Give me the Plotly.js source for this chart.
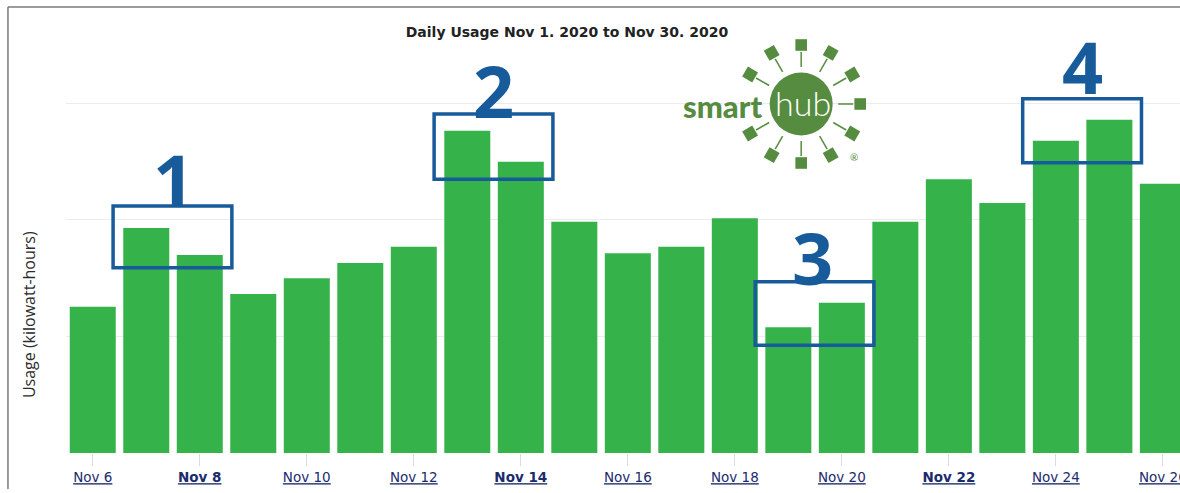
<!DOCTYPE html>
<html>
<head>
<meta charset="utf-8">
<script src="https://cdn.plot.ly/plotly-3.0.1.min.js"></script>
<style>html,body{margin:0;padding:0;background:#fff;}#chart{width:1180px;height:493px;}</style>
</head>
<body>
<div id="chart"></div>
<script>
// ---- data ----
const days = ["Nov 6","Nov 7","Nov 8","Nov 9","Nov 10","Nov 11","Nov 12","Nov 13","Nov 14","Nov 15","Nov 16",
  "Nov 17","Nov 18","Nov 19","Nov 20","Nov 21","Nov 22","Nov 23","Nov 24","Nov 25","Nov 26"];
const usageKwh = [25.1,38.6,34.0,27.3,30.0,32.6,35.4,55.3,50.0,39.7,34.3,35.4,40.3,21.6,25.8,39.7,47.0,42.9,53.6,57.2,46.2];
const tickDays = ["Nov 6","Nov 8","Nov 10","Nov 12","Nov 14","Nov 16","Nov 18","Nov 20","Nov 22","Nov 24","Nov 26"];
const tickLabels = ["Nov 6","<b>Nov 8</b>","Nov 10","Nov 12","<b>Nov 14</b>","Nov 16","Nov 18","Nov 20","<b>Nov 22</b>","Nov 24","Nov 26"];
const titleText = "Daily Usage Nov 1. 2020 to Nov 30. 2020";
const yTitle = "Usage (kilowatt-hours)";
// highlighted pairs of days
const highlightLabels = ["1","2","3","4"];
const highlightFirstDay = [1,7,13,18];
const highlightBoxTop = [42.4,58.2,29.4,60.8];
const highlightBoxBottom = [31.8,47.0,18.5,49.8];
const highlightLabelPos = [[1.5,47.1],[7.49,62.3],[13.46,33.6],[18.49,66.4]];

const blue = "#175b9b";
const logoGreen = "#568c3f";

const shapes = [];
const annotations = [];

// highlight boxes
highlightFirstDay.forEach((d,i)=>{
  shapes.push({type:"rect", xref:"x", yref:"y", x0:d-0.62, x1:d+1.6,
    y0:highlightBoxBottom[i], y1:highlightBoxTop[i], line:{color:blue,width:3.5}, fillcolor:"rgba(0,0,0,0)"});
  annotations.push({x:highlightLabelPos[i][0], y:highlightLabelPos[i][1], xref:"x", yref:"y",
    text:highlightLabels[i], showarrow:false, xanchor:"center", yanchor:"middle",
    font:{family:"Open Sans", size:72, weight:700, color:blue}});
});

// frame lines
shapes.push({type:"line", xref:"paper", yref:"paper", x0:-0.0521, x1:-0.0521, y0:1.0544, y1:-0.0851, line:{color:"#7a7a7a", width:1.5}});
shapes.push({type:"line", xref:"paper", yref:"paper", x0:-0.0521, x1:1.0, y0:1.0544, y1:1.0544, line:{color:"#7a7a7a", width:1.5}});

// smarthub logo (decoration), anchored at sun centre
const sunX = 13.24, sunY = 59.9;
shapes.push({type:"circle", xref:"x", yref:"y", xsizemode:"pixel", ysizemode:"pixel", xanchor:sunX, yanchor:sunY,
  x0:-31.5, x1:31.5, y0:-31.5, y1:31.5, fillcolor:logoGreen, line:{width:0}});
for (let k=0;k<12;k++){
  if (k===9) continue; // left side holds the word "smart"
  const th = (90 - k*30) * Math.PI/180;
  const c = Math.cos(th), s = Math.sin(th);
  shapes.push({type:"path", xref:"x", yref:"y", xsizemode:"pixel", ysizemode:"pixel", xanchor:sunX, yanchor:sunY,
    path:`M ${(37*c).toFixed(2)},${(37*s).toFixed(2)} L ${(52*c).toFixed(2)},${(52*s).toFixed(2)}`,
    line:{color:logoGreen, width:1.5}});
  const cx = 59*c, cy = 59*s, h = 5.8;
  const pts = [[-h,-h],[h,-h],[h,h],[-h,h]].map(([a,b])=>[cx + a*c - b*s, cy + a*s + b*c]);
  shapes.push({type:"path", xref:"x", yref:"y", xsizemode:"pixel", ysizemode:"pixel", xanchor:sunX, yanchor:sunY,
    path:"M " + pts.map(p=>p[0].toFixed(2)+","+p[1].toFixed(2)).join(" L ") + " Z",
    fillcolor:logoGreen, line:{width:0}});
}
annotations.push({x:sunX, y:sunY, xref:"x", yref:"y", xshift:-79, yshift:-2, text:"smart", showarrow:false,
  font:{family:"Lato", size:31, weight:900, color:logoGreen}});
annotations.push({x:sunX, y:sunY, xref:"x", yref:"y", xshift:2, yshift:2, text:"hub", showarrow:false,
  font:{family:"Lato", size:34, weight:300, color:"#ffffff"}});
annotations.push({x:sunX, y:sunY, xref:"x", yref:"y", xshift:53, yshift:-53, text:"®", showarrow:false,
  font:{family:"Lato", size:10, color:logoGreen}});

// y axis title
annotations.push({x:-0.0332, y:0.326, xref:"paper", yref:"paper", text:yTitle, textangle:-90, showarrow:false,
  xanchor:"center", yanchor:"middle", font:{family:"Open Sans", size:16, weight:500, color:"#2b2b2b"}});

const trace = {type:"bar", x:days, y:usageKwh, marker:{color:"#35b34a", line:{width:0}}, hoverinfo:"x+y"};

const layout = {
  width:1180, height:493,
  margin:{l:66, r:0, t:30, b:40},
  paper_bgcolor:"#ffffff", plot_bgcolor:"#ffffff",
  bargap:0.14,
  showlegend:false,
  title:{text:titleText, x:0.4805, xref:"container", xanchor:"center", y:0.935, yref:"container", yanchor:"middle",
    font:{family:"DejaVu Sans", size:14, weight:700, color:"#222222"}},
  xaxis:{type:"category", range:[-0.5,20.32], tickmode:"array", tickvals:tickDays,
    ticktext:tickLabels.map(t=>"<u>"+t+"</u>"), ticks:"outside", ticklen:12, tickcolor:"#dddddd", tickwidth:1,
    tickfont:{family:"DejaVu Sans", size:13.5, color:"#1c2b6e"}, showgrid:false, showline:false, zeroline:false},
  yaxis:{range:[0,72.6], dtick:20, showticklabels:false, showgrid:true, gridcolor:"#ececec", gridwidth:1,
    zeroline:false, showline:false, ticks:""},
  shapes:shapes,
  annotations:annotations
};

Plotly.newPlot("chart", [trace], layout, {staticPlot:true, displayModeBar:false});
</script>
</body>
</html>
